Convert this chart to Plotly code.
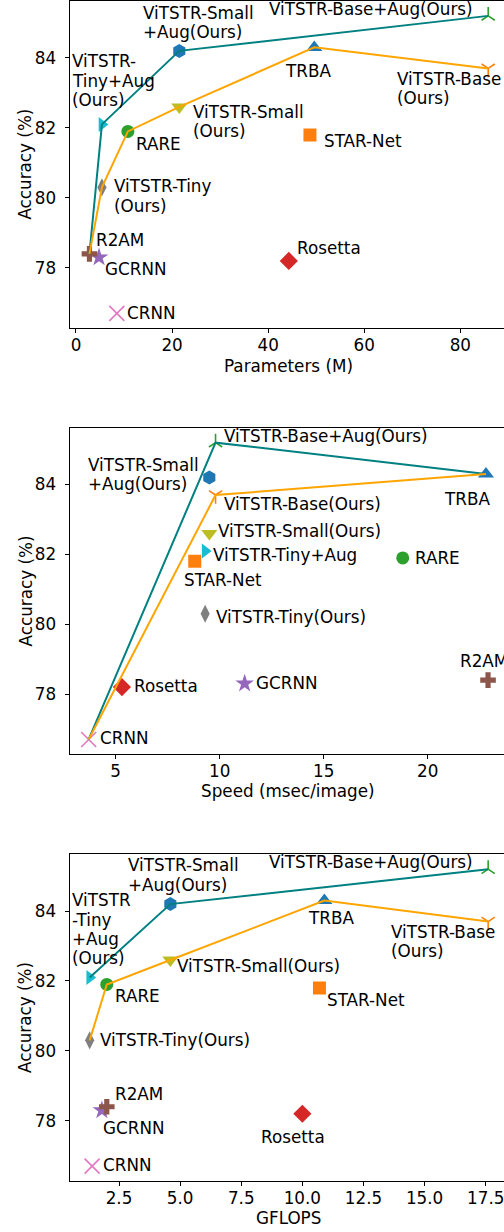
import plotly.graph_objects as go

# ---------------- data ----------------
models = ["TRBA", "STAR-Net", "RARE", "Rosetta", "GCRNN", "R2AM", "CRNN",
          "ViTSTR-Tiny", "ViTSTR-Small", "ViTSTR-Tiny+Aug", "ViTSTR-Small+Aug",
          "ViTSTR-Base", "ViTSTR-Base+Aug"]
accuracy = [84.3, 81.8, 81.9, 78.2, 78.3, 78.4, 76.7, 80.3, 82.6, 82.1, 84.2, 83.7, 85.2]
params_m = [49.6, 48.7, 10.8, 44.3, 4.8, 2.8, 8.5, 5.4, 21.5, 5.4, 21.5, 85.8, 85.8]
speed_ms = [22.8, 8.8, 18.8, 5.3, 11.2, 22.9, 3.7, 9.3, 9.5, 9.3, 9.5, 9.8, 9.8]
gflops = [10.9, 10.7, 2.0, 10.0, 1.8, 2.0, 1.4, 1.3, 4.6, 1.3, 4.6, 17.6, 17.6]

labels_params = ["TRBA", "STAR-Net", "RARE", "Rosetta", "GCRNN", "R2AM", "CRNN",
                 "ViTSTR-Tiny\n(Ours)", "ViTSTR-Small\n(Ours)", "ViTSTR-\nTiny+Aug\n(Ours)",
                 "ViTSTR-Small\n+Aug(Ours)", "ViTSTR-Base\n(Ours)", "ViTSTR-Base+Aug(Ours)"]
labels_speed = ["TRBA", "STAR-Net", "RARE", "Rosetta", "GCRNN", "R2AM", "CRNN",
                "ViTSTR-Tiny(Ours)", "ViTSTR-Small(Ours)", "ViTSTR-Tiny+Aug",
                "ViTSTR-Small\n+Aug(Ours)", "ViTSTR-Base(Ours)", "ViTSTR-Base+Aug(Ours)"]
labels_flops = ["TRBA", "STAR-Net", "RARE", "Rosetta", "GCRNN", "R2AM", "CRNN",
                "ViTSTR-Tiny(Ours)", "ViTSTR-Small(Ours)", "ViTSTR\n-Tiny\n+Aug\n(Ours)",
                "ViTSTR-Small\n+Aug(Ours)", "ViTSTR-Base\n(Ours)", "ViTSTR-Base+Aug(Ours)"]

# frontier lines (model names, in order)
aug_front_params = ["R2AM", "ViTSTR-Tiny+Aug", "ViTSTR-Small+Aug", "ViTSTR-Base+Aug"]
base_front_params = ["R2AM", "ViTSTR-Tiny", "RARE", "ViTSTR-Small", "TRBA", "ViTSTR-Base"]
aug_front_speed = ["CRNN", "ViTSTR-Base+Aug", "TRBA"]
base_front_speed = ["CRNN", "ViTSTR-Base", "TRBA"]
aug_front_flops = ["ViTSTR-Tiny+Aug", "ViTSTR-Small+Aug", "ViTSTR-Base+Aug"]
base_front_flops = ["ViTSTR-Tiny", "RARE", "ViTSTR-Small", "TRBA", "ViTSTR-Base"]

x_titles = ["Parameters (M)", "Speed (msec/image)", "GFLOPS"]
y_title = "Accuracy (%)"

# ---------------- styles ----------------
FONT = "DejaVu Sans"
FS = 16.8
W, H = 504, 1232
TEAL = "#008080"
ORANGE = "#ffa500"

marker_style = {
    "TRBA": ("triangle-up", "#1f77b4", 14),
    "STAR-Net": ("square", "#ff7f0e", 13),
    "RARE": ("circle", "#2ca02c", 13),
    "Rosetta": ("diamond", "#d62728", 14),
    "GCRNN": ("star", "#9467bd", 14),
    "R2AM": ("cross", "#8c564b", 13),
    "CRNN": ("x-thin", "#e377c2", 15),
    "ViTSTR-Tiny": ("diamond-tall", "#7f7f7f", 13),
    "ViTSTR-Small": ("triangle-down", "#bcbd22", 14),
    "ViTSTR-Tiny+Aug": ("triangle-right", "#17becf", 13),
    "ViTSTR-Small+Aug": ("hexagon", "#1f77b4", 14),
    "ViTSTR-Base": ("y-down", "#ff7f0e", 11),
    "ViTSTR-Base+Aug": ("y-up", "#2ca02c", 11),
}
open_symbols = {"x-thin", "y-down", "y-up"}

# label offsets in px (dx right, dy down to first line centre)
off_params = {
    "TRBA": (-30.3, 23.9), "STAR-Net": (13.3, 6.4), "RARE": (7, 12.2), "Rosetta": (7.2, -13),
    "GCRNN": (5.2, 11.5), "R2AM": (6, -13.6), "CRNN": (8.9, -0.5), "ViTSTR-Tiny": (11.4, -1.1),
    "ViTSTR-Small": (12.4, 5), "ViTSTR-Tiny+Aug": (-30.9, -63.1), "ViTSTR-Small+Aug": (-37, -38),
    "ViTSTR-Base": (-92.2, 10.5), "ViTSTR-Base+Aug": (-219.9, -7),
}
off_speed = {
    "TRBA": (-42.7, 24.8), "STAR-Net": (-11.4, 18.8), "RARE": (11.3, 0), "Rosetta": (11.4, -0.9),
    "GCRNN": (10.3, -0.8), "R2AM": (-28.7, -18.9), "CRNN": (10.3, -1), "ViTSTR-Tiny": (9.9, 2.9),
    "ViTSTR-Small": (7.4, -2.3), "ViTSTR-Tiny+Aug": (6.6, 3.8), "ViTSTR-Small+Aug": (-122, -13),
    "ViTSTR-Base": (7.2, 8.8), "ViTSTR-Base+Aug": (7.2, -6.9),
}
off_flops = {
    "TRBA": (-17.7, 17.8), "STAR-Net": (6.5, 12), "RARE": (7.2, 11.5), "Rosetta": (-42.4, 23.6),
    "GCRNN": (-0.2, 17.8), "R2AM": (7.2, -12.7), "CRNN": (9.6, -1.2), "ViTSTR-Tiny": (9.6, -0.5),
    "ViTSTR-Small": (5.6, 6), "ViTSTR-Tiny+Aug": (-18.7, -77.2), "ViTSTR-Small+Aug": (-43.7, -38.7),
    "ViTSTR-Base": (-98.2, 10.5), "ViTSTR-Base+Aug": (-219.9, -7),
}
LINE_GAP = 19.3

x_left_px = 69.5
panels = [
    dict(xs=params_m, labels=labels_params, offs=off_params, aug=aug_front_params,
         base=base_front_params, top=1, bottom=328.3, xrange=[-1.35, 89.09],
         tickvals=[0, 20, 40, 60, 80], ticktext=["0", "20", "40", "60", "80"], tcy=366.5, ycy=164.6),
    dict(xs=speed_ms, labels=labels_speed, offs=off_speed, aug=aug_front_speed,
         base=base_front_speed, top=427.8, bottom=754.3, xrange=[2.779, 23.668],
         tickvals=[5, 10, 15, 20], ticktext=["5", "10", "15", "20"], tcy=791, ycy=591.5),
    dict(xs=gflops, labels=labels_flops, offs=off_flops, aug=aug_front_flops,
         base=base_front_flops, top=854.3, bottom=1181, xrange=[0.475, 18.248],
         tickvals=[2.5, 5, 7.5, 10, 12.5, 15, 17.5],
         ticktext=["2.5", "5.0", "7.5", "10.0", "12.5", "15.0", "17.5"], tcy=1218, ycy=1018),
]
YRANGE = [76.275, 85.625]

fig = go.Figure()
annotations = []
layout_axes = {}
idx = {m: i for i, m in enumerate(models)}

for p, pan in enumerate(panels):
    n = "" if p == 0 else str(p + 1)
    xa, ya = "x" + n, "y" + n
    xs = pan["xs"]
    fig.add_trace(go.Scatter(
        x=xs, y=accuracy, mode="markers", xaxis=xa, yaxis=ya, showlegend=False,
        marker=dict(
            symbol=[marker_style[m][0] for m in models],
            color=[marker_style[m][1] for m in models],
            size=[marker_style[m][2] for m in models],
            opacity=1,
            line=dict(color=[marker_style[m][1] for m in models],
                      width=[1.6 if marker_style[m][0] in open_symbols else 0 for m in models]),
        ),
        opacity=1, hoverinfo="skip",
    ))
    for names, col in ((pan["aug"], TEAL), (pan["base"], ORANGE)):
        fig.add_trace(go.Scatter(
            x=[xs[idx[m]] for m in names], y=[accuracy[idx[m]] for m in names],
            mode="lines", line=dict(color=col, width=2), xaxis=xa, yaxis=ya,
            showlegend=False, hoverinfo="skip"))
    for i, m in enumerate(models):
        dx, dy = pan["offs"][m]
        for k, line in enumerate(pan["labels"][i].split("\n")):
            annotations.append(dict(
                x=xs[i], y=accuracy[i], xref=xa, yref=ya, text=line, showarrow=False,
                xanchor="left", yanchor="middle", xshift=dx, yshift=-(dy + k * LINE_GAP),
                font=dict(family=FONT, size=FS, color="black"), borderpad=0))
    annotations.append(dict(x=288 / W, y=1 - pan["tcy"] / H, xref="paper", yref="paper",
                            text=x_titles[p], showarrow=False, xanchor="center", yanchor="middle",
                            font=dict(family=FONT, size=FS, color="black"), borderpad=0))
    annotations.append(dict(x=25 / W, y=1 - pan["ycy"] / H, xref="paper", yref="paper",
                            text=y_title, showarrow=False, textangle=-90, xanchor="center",
                            yanchor="middle", font=dict(family=FONT, size=FS, color="black"),
                            borderpad=0))
    common = dict(showgrid=False, zeroline=False, showline=True, linecolor="black", linewidth=1,
                  ticks="outside", ticklen=4, tickwidth=1, tickcolor="black",
                  tickfont=dict(family=FONT, size=FS, color="black"), automargin=False,
                  ticklabeloverflow="allow")
    layout_axes["xaxis" + n] = dict(common, domain=[x_left_px / W, 1.0], range=pan["xrange"],
                                    anchor=ya, mirror=True, tickvals=pan["tickvals"],
                                    ticktext=pan["ticktext"], ticklabelstandoff=-2)
    layout_axes["yaxis" + n] = dict(common, domain=[1 - pan["bottom"] / H, 1 - pan["top"] / H],
                                    range=YRANGE, anchor=xa, mirror=False,
                                    tickvals=[78, 80, 82, 84], ticklabelstandoff=5)

fig.update_layout(width=W, height=H, margin=dict(l=0, r=0, t=0, b=0),
                  paper_bgcolor="white", plot_bgcolor="white",
                  annotations=annotations, **layout_axes)
fig.write_html("out.html", config={"displayModeBar": False},
               post_script="document.body.style.margin='0';document.body.style.overflow='hidden';")
